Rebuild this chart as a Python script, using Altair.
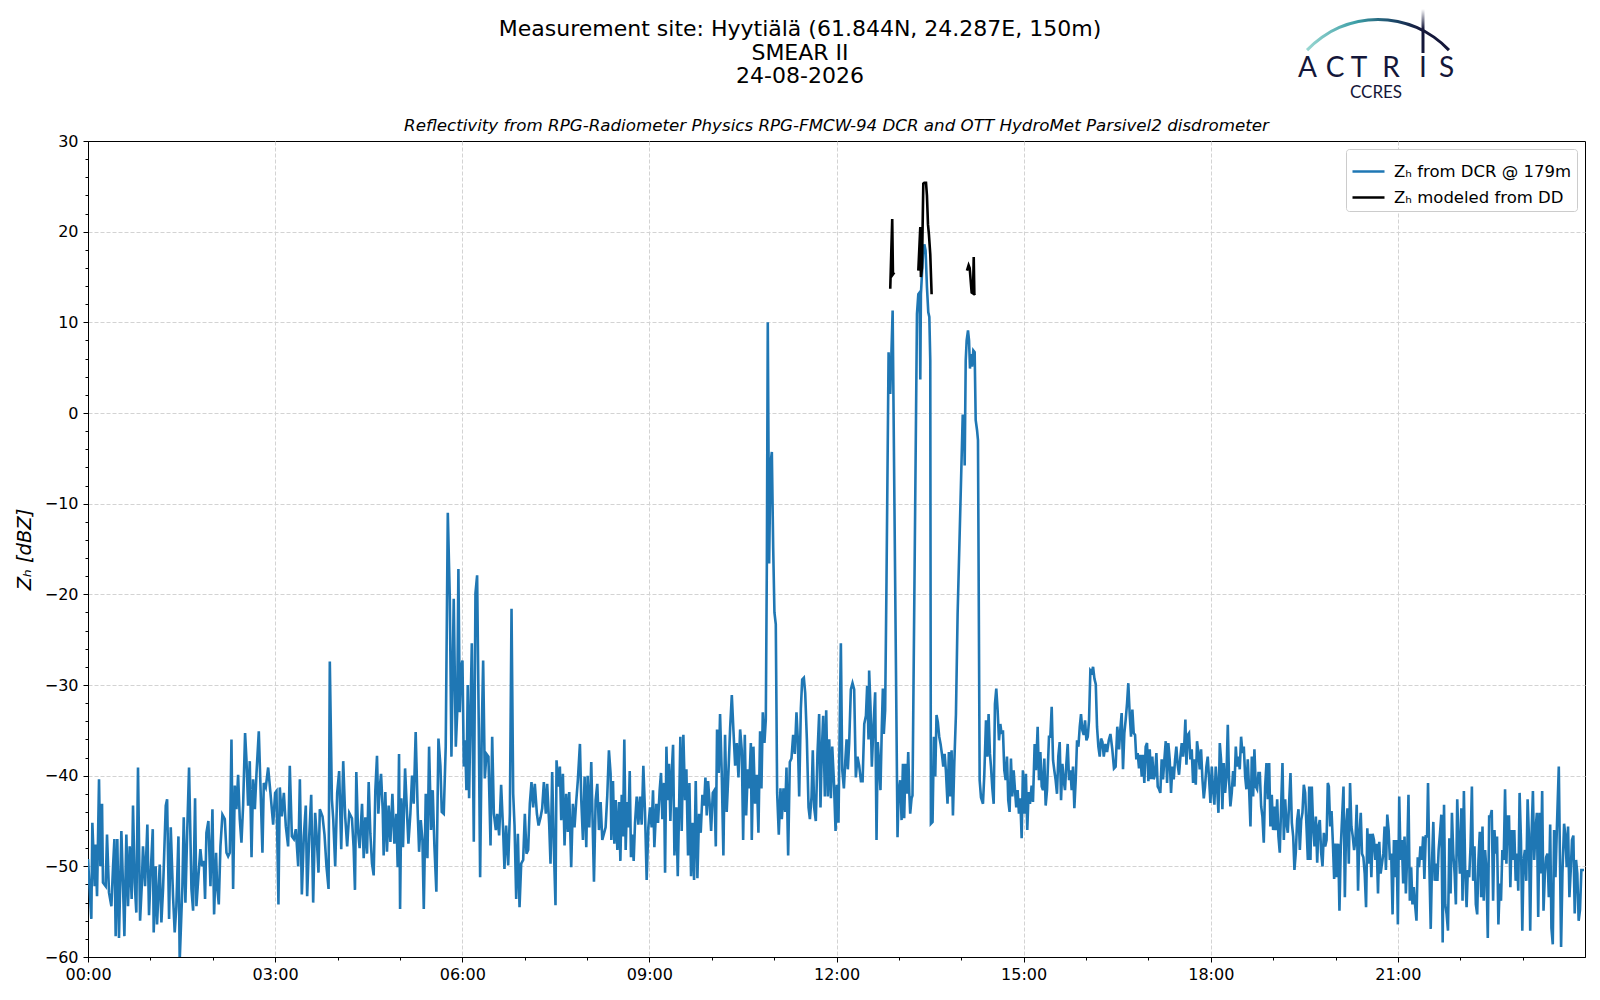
import altair as alt
import pandas as pd

# ---------------- text ----------------
TITLE_LINES = [
    "Measurement site: Hyytiälä (61.844N, 24.287E, 150m)",
    "SMEAR II",
    "24-08-2026",
]
SUBTITLE = ("Reflectivity from RPG-Radiometer Physics RPG-FMCW-94 DCR "
            "and OTT HydroMet Parsivel2 disdrometer")
SERIES = ["Zₕ from DCR @ 179m", "Zₕ modeled from DD"]
Y_TITLE = "Zₕ [dBZ]"
LOGO_LETTERS = ["A", "C", "T", "R", "I", "S"]
LOGO_SUB = "CCRES"

# ---------------- data: (minute of day, dBZ) ----------------
DCR_00_04 = [
    (0.0, -49.2), (3.2, -55.8), (4.2, -45.2), (6.4, -52.2), (7.1, -47.6), (8.7, -53.3),
    (10.6, -40.4), (11.9, -50.0), (13.5, -43.1), (14.4, -51.8), (17.0, -52.2), (18.3, -46.5),
    (20.2, -52.9), (22.5, -54.4), (24.1, -50.0), (25.4, -47.0), (26.6, -57.7), (28.2, -47.0),
    (29.8, -57.9), (32.1, -46.1), (33.7, -52.2), (35.0, -57.7), (36.9, -46.5), (38.5, -54.4),
    (40.1, -47.8), (42.0, -53.6), (43.3, -43.3), (44.9, -51.8), (46.5, -55.1), (48.1, -39.1),
    (50.1, -56.0), (51.7, -52.2), (52.9, -47.8), (54.9, -52.2), (57.1, -45.4), (58.7, -55.4),
    (60.3, -50.7), (62.3, -45.9), (63.2, -57.3), (65.1, -50.0), (66.4, -56.4), (69.0, -49.8),
    (70.6, -56.2), (72.2, -52.5), (74.8, -43.3), (76.1, -42.6), (78.0, -55.8), (79.6, -45.7),
    (81.8, -53.3), (83.4, -57.3), (85.0, -54.4), (87.0, -46.7), (88.2, -60.5), (90.8, -52.2),
    (92.1, -44.6), (93.7, -54.0), (95.3, -46.7), (97.2, -39.1), (99.5, -52.5), (101.1, -54.9),
    (103.0, -42.5), (104.3, -54.4), (106.2, -51.1), (108.1, -48.1), (109.7, -50.0), (111.4, -49.4),
    (112.6, -53.6), (113.9, -46.3), (115.8, -45.0), (117.8, -52.2), (119.7, -43.7), (121.3, -55.3),
    (123.2, -48.5), (124.2, -52.2), (125.8, -54.2), (127.4, -47.8), (129.3, -44.3), (131.6, -44.8),
    (133.2, -48.5), (134.8, -48.9), (136.4, -48.5), (138.0, -36.0), (139.6, -52.5), (141.2, -41.1),
    (142.8, -43.7), (144.4, -39.9), (146.0, -44.8), (147.6, -47.4), (149.2, -43.3), (151.1, -35.3),
    (152.4, -38.2), (154.0, -43.3), (155.6, -38.4), (157.3, -49.0), (158.8, -40.4), (160.5, -43.7),
    (162.1, -39.7), (164.3, -35.1), (165.9, -41.1), (167.8, -48.5), (169.1, -40.8), (171.0, -41.3),
    (173.3, -39.1), (175.5, -41.9), (178.1, -45.4), (180.0, -41.9), (181.3, -41.7), (183.2, -54.2),
    (184.5, -41.3), (186.4, -44.5), (188.4, -41.9), (190.3, -45.6), (192.5, -47.8), (194.1, -38.9),
    (196.1, -46.7), (198.0, -47.0), (199.9, -45.9), (202.2, -50.0), (203.8, -40.4), (205.7, -53.1),
    (207.6, -46.7), (209.5, -43.3), (210.8, -53.3), (212.8, -46.7), (214.7, -42.1), (216.6, -54.0),
    (218.5, -44.1), (219.8, -46.3), (221.7, -50.7), (223.0, -43.7), (225.6, -44.5), (227.5, -46.5),
    (229.4, -50.0), (231.4, -52.5), (232.6, -27.4), (234.6, -42.6), (235.9, -44.8), (237.8, -50.0),
    (239.7, -41.9), (241.6, -39.5), (243.6, -48.1), (245.5, -38.4), (247.4, -44.5), (249.3, -47.8),
    (251.3, -44.1),
]

DCR_04_08 = [
    (253.9, -44.7), (255.5, -47.9), (256.8, -52.6), (258.1, -39.6), (259.7, -46.0),
    (261.3, -48.0), (263.6, -43.1), (265.2, -49.1), (266.8, -44.6), (268.4, -48.6), (270.0, -40.7),
    (271.6, -46.4), (273.2, -49.7), (274.8, -51.0), (276.4, -41.6), (278.0, -37.8), (279.3, -44.2),
    (280.6, -41.4), (281.9, -39.8), (283.5, -43.8), (284.4, -48.8), (286.0, -41.8), (287.6, -48.4),
    (289.2, -43.3), (290.9, -47.3), (292.8, -42.0), (294.7, -47.5), (296.6, -44.2), (297.9, -50.1),
    (299.2, -37.6), (300.2, -54.7), (301.4, -42.5), (303.0, -47.9), (305.0, -39.2), (306.9, -44.2),
    (308.2, -47.5), (310.1, -44.2), (311.7, -40.0), (313.3, -43.1), (315.2, -35.2), (317.2, -44.2),
    (318.5, -48.4), (320.1, -44.9), (321.7, -47.1), (323.0, -54.7), (324.9, -42.0), (326.5, -49.1),
    (328.1, -36.8), (330.0, -46.0), (331.6, -41.6), (333.2, -47.7), (335.1, -52.8), (337.1, -35.9),
    (339.0, -38.9), (340.3, -44.0), (342.2, -44.2), (344.1, -36.8), (346.1, -11.0), (348.0, -20.3),
    (349.6, -37.9), (351.8, -20.5), (353.8, -36.8), (355.1, -33.2), (356.3, -17.2), (357.6, -33.0),
    (358.9, -28.0), (360.2, -27.3), (361.5, -39.0), (362.8, -36.1), (364.0, -41.6), (365.3, -30.0),
    (366.6, -42.5), (367.9, -33.2), (369.2, -25.4), (371.1, -47.3), (372.7, -19.9), (374.3, -17.9),
    (375.9, -34.6), (377.2, -51.2), (378.8, -35.0), (380.1, -27.3), (381.7, -40.3), (383.3, -37.6),
    (385.2, -37.9), (387.2, -47.7), (388.8, -35.7), (390.4, -44.2), (392.3, -46.0), (393.6, -44.2),
    (395.5, -46.6), (397.4, -41.0), (399.3, -46.0), (400.6, -50.3), (402.2, -45.5), (404.2, -49.9),
    (405.8, -44.2), (407.4, -21.6), (409.0, -42.0), (410.3, -45.5), (411.9, -53.6), (413.5, -46.4),
    (415.1, -54.5), (416.7, -49.7), (418.6, -49.3), (420.2, -44.2), (421.8, -48.6), (423.4, -48.2),
    (425.0, -43.1), (426.6, -40.7), (428.2, -43.5), (429.8, -40.9), (431.8, -44.2), (433.4, -45.5),
    (435.3, -44.6), (436.9, -43.6), (438.5, -40.7), (440.4, -44.2), (441.7, -40.9), (443.6, -45.3),
    (444.9, -49.7), (446.5, -39.6), (448.1, -47.9), (449.7, -54.3), (450.7, -38.3), (452.3, -41.2),
    (453.9, -39.0), (455.2, -44.9), (456.8, -39.8), (458.4, -47.7), (460.0, -42.0), (461.6, -46.2),
    (462.9, -41.8), (464.8, -50.1), (466.4, -43.1), (468.0, -45.7), (469.6, -42.9), (471.2, -40.5),
    (473.2, -36.5), (474.5, -42.7), (476.1, -47.1), (477.7, -40.1), (479.3, -47.9), (480.6, -40.0),
    (482.2, -45.7), (484.1, -38.5), (485.7, -46.6), (486.7, -51.7), (488.3, -42.7), (489.9, -40.9),
    (491.5, -46.0), (493.1, -42.9), (494.7, -47.1), (496.3, -46.4), (497.9, -45.7), (499.5, -42.2),
    (501.1, -37.2), (502.7, -39.8),
]

DCR_08_12 = [
    (503.4, -47.1), (505.0, -40.6), (506.3, -47.5), (507.6, -42.7), (509.2, -48.2), (510.8, -42.9),
    (512.1, -49.4), (513.4, -42.1), (514.6, -46.7), (515.9, -36.0), (517.2, -48.2), (518.5, -42.9),
    (519.8, -45.7), (521.1, -39.5), (522.3, -49.0), (523.6, -46.5), (524.9, -49.4), (526.2, -45.2),
    (527.8, -42.3), (529.4, -45.4), (531.0, -42.3), (532.6, -45.4), (534.2, -38.9), (535.8, -44.0),
    (537.4, -51.5), (539.0, -45.7), (540.6, -43.5), (542.2, -45.7), (543.5, -41.6), (544.8, -47.9),
    (546.7, -43.1), (548.3, -45.2), (549.9, -41.6), (551.2, -39.7), (552.5, -44.8), (554.1, -40.8),
    (555.1, -50.7), (556.4, -36.8), (557.7, -42.7), (558.9, -38.7), (560.2, -45.0), (561.5, -39.7),
    (562.8, -36.6), (564.1, -48.8), (566.0, -43.5), (567.3, -51.1), (568.6, -43.5), (569.8, -35.7),
    (571.1, -46.1), (572.7, -35.5), (574.3, -42.7), (575.6, -39.3), (577.2, -48.8), (578.5, -40.8),
    (580.1, -51.1), (581.4, -45.2), (583.0, -51.5), (584.6, -40.6), (586.2, -51.3), (587.8, -44.2),
    (589.4, -46.3), (591.0, -42.1), (592.6, -43.3), (593.9, -40.2), (595.2, -44.4), (596.5, -40.6),
    (598.1, -43.3), (599.4, -46.1), (601.0, -41.9), (602.6, -41.6), (603.9, -47.8), (605.1, -34.9),
    (606.7, -39.7), (608.0, -33.2), (609.6, -39.7), (611.2, -48.8), (612.8, -35.5), (614.4, -44.0),
    (616.1, -39.5), (617.7, -34.7), (619.3, -31.1), (620.9, -35.1), (622.5, -38.9), (624.1, -36.4),
    (625.7, -40.2), (627.3, -34.9), (628.9, -37.2), (630.2, -47.1), (631.8, -35.5), (633.1, -44.4),
    (634.7, -39.3), (636.0, -41.4), (637.6, -36.4), (638.5, -47.1), (640.1, -36.8), (641.7, -43.1),
    (643.3, -39.9), (644.9, -46.3), (646.5, -35.1), (647.8, -41.4), (649.1, -33.0), (650.7, -36.4),
    (652.0, -33.8), (653.0, -16.6), (653.9, 10.0), (655.2, -16.6), (656.5, -5.6), (657.8, -4.3),
    (659.1, -14.9), (660.3, -22.0), (661.6, -23.3), (662.9, -41.9), (664.5, -46.5), (666.1, -41.4),
    (667.4, -44.8), (669.0, -41.4), (670.6, -44.0), (671.9, -39.1), (673.5, -48.8), (675.1, -38.5),
    (676.7, -38.1), (678.3, -35.5), (679.9, -37.6), (681.5, -33.0), (682.8, -36.0), (684.1, -42.3),
    (685.7, -32.6), (687.0, -29.4), (688.6, -29.2), (689.9, -30.9), (691.5, -36.0), (693.1, -43.5),
    (694.4, -44.8), (696.0, -42.3), (697.2, -37.2), (698.5, -43.5), (700.1, -45.0), (701.7, -37.6),
    (703.3, -33.2), (704.6, -43.5), (705.9, -37.2), (707.2, -33.4), (708.8, -42.3), (710.1, -32.8),
    (711.7, -42.3), (713.0, -36.0), (714.6, -42.5), (715.9, -36.8), (717.5, -40.6), (719.1, -46.1),
    (720.3, -41.0), (721.9, -45.2), (723.2, -33.8), (724.2, -25.4), (725.5, -39.3), (727.1, -41.4),
    (728.4, -38.5), (729.7, -36.0), (730.9, -39.3), (732.2, -36.4), (733.8, -30.5), (735.4, -29.8),
    (737.0, -30.5), (738.6, -40.2), (740.2, -37.9), (741.8, -38.9), (743.5, -40.6), (745.1, -40.6),
    (746.7, -34.3), (748.3, -33.4), (749.5, -30.1), (750.8, -36.0),
]

DCR_12_16 = [
    (751.4, -28.4), (752.7, -32.4), (754.0, -39.0), (755.5, -34.6), (757.2, -30.8), (758.5, -47.1),
    (759.7, -36.3), (761.0, -38.7), (762.3, -41.6), (763.6, -34.6), (764.6, -30.4), (765.5, -35.4),
    (766.8, -32.8), (768.1, -18.5), (770.1, 6.7), (771.7, 2.1), (774.0, 11.3), (778.7, -46.8),
    (779.7, -42.0), (781.3, -40.5), (782.6, -44.9), (783.9, -38.7), (785.1, -44.7), (786.4, -38.7),
    (787.7, -42.0), (789.0, -37.4), (790.0, -41.8), (790.9, -44.2), (792.2, -42.5), (793.1, -42.2),
    (797.4, 10.9), (798.7, 13.1), (800.0, 13.3), (800.6, 3.7), (801.2, 13.1), (802.2, 15.3),
    (803.2, 17.5), (804.5, 18.6), (805.7, 17.9), (807.0, 13.9), (808.3, 11.1), (809.3, 10.6),
    (810.2, 5.8), (810.8, -45.3), (812.4, -45.1), (813.7, -35.7), (815.0, -40.1), (816.2, -33.3),
    (817.5, -34.1), (818.8, -35.7), (820.1, -36.5), (821.4, -37.6), (822.7, -39.0), (824.0, -37.6),
    (825.2, -39.4), (826.8, -43.1), (828.1, -37.4), (829.4, -42.3), (830.7, -37.2), (832.0, -44.4),
    (833.3, -38.7), (834.9, -33.2), (836.5, -22.2), (841.4, -0.3), (842.6, -0.3), (843.3, -5.8),
    (844.3, 5.8), (845.2, 8.0), (846.5, 9.1), (847.5, 8.0), (848.4, 4.9), (849.4, 6.5),
    (850.4, 5.1), (851.6, 6.9), (852.9, 6.7), (853.9, -0.8), (855.2, -1.9), (856.1, -3.0),
    (857.7, -40.5), (859.0, -42.4), (860.9, -43.1), (862.2, -39.8), (863.8, -33.9), (865.1, -37.9),
    (866.3, -33.2), (867.6, -37.6), (868.6, -39.0), (869.9, -41.4), (871.2, -43.1), (872.4, -32.1),
    (873.7, -30.4), (875.0, -32.8), (876.3, -36.1), (877.6, -34.3), (878.8, -35.4), (880.1, -35.0),
    (881.4, -39.4), (882.7, -40.5), (884.0, -37.9), (885.2, -42.7), (886.5, -44.0), (887.8, -38.1),
    (889.1, -42.3), (890.4, -39.4), (891.7, -41.6), (892.9, -43.5), (894.2, -41.6), (895.5, -44.2),
    (896.8, -42.5), (898.1, -46.9), (899.3, -39.4), (900.9, -44.2), (902.2, -39.8), (903.5, -46.0),
    (904.8, -41.8), (906.1, -43.1), (907.7, -41.1), (909.0, -42.9), (910.6, -36.5), (911.9, -39.4),
    (913.5, -34.6), (914.8, -40.5), (916.1, -37.4), (917.4, -41.2), (918.6, -41.6), (919.9, -38.1),
    (921.2, -43.3), (922.5, -41.6), (924.4, -35.7), (925.7, -35.7), (927.0, -32.4), (928.3, -38.3),
    (929.5, -39.4), (930.8, -40.5), (932.1, -42.0), (933.4, -37.8), (934.7, -36.3), (936.0, -42.7),
    (937.3, -38.7), (938.5, -40.5), (939.8, -41.6), (941.1, -38.7), (942.4, -36.5), (943.7, -40.5),
    (945.0, -39.4), (946.2, -41.6), (947.5, -39.0), (948.8, -43.6), (950.1, -40.5), (951.4, -36.1),
    (952.7, -36.8), (954.0, -34.6), (955.2, -33.2), (956.5, -35.0), (957.8, -35.5), (959.1, -33.9),
    (960.4, -36.1), (961.7, -35.7), (962.9, -33.9), (964.2, -28.4), (965.5, -28.6), (966.8, -28.0),
    (968.1, -29.3), (969.4, -29.9), (970.6, -34.6), (971.9, -36.8), (973.2, -37.9), (974.5, -35.9),
    (975.8, -36.3), (977.1, -37.9), (978.7, -36.5), (980.3, -37.4), (981.9, -36.1), (983.5, -35.4),
]

DCR_16_20 = [
    (985.3, -37.1), (986.9, -39.2), (988.5, -39.0), (990.1, -34.6), (991.8, -37.1), (993.0, -34.9),
    (994.3, -33.1), (995.6, -39.3), (996.9, -35.3), (998.2, -33.8), (999.5, -32.0), (1000.7, -29.8),
    (1002.0, -33.1), (1003.3, -35.7), (1004.6, -32.7), (1005.9, -35.3), (1007.2, -35.5), (1008.4, -38.2),
    (1009.7, -37.5), (1011.0, -39.2), (1012.3, -37.7), (1013.6, -40.1), (1014.9, -37.7), (1016.1, -40.8),
    (1017.4, -36.8), (1018.7, -36.4), (1020.0, -40.6), (1021.3, -37.1), (1022.6, -40.4), (1023.8, -37.9),
    (1025.1, -40.4), (1026.4, -39.9), (1027.7, -37.5), (1029.0, -41.2), (1030.3, -41.5), (1031.5, -41.9),
    (1032.8, -38.2), (1034.1, -40.4), (1035.4, -38.2), (1036.7, -36.2), (1038.0, -40.8), (1039.2, -36.4),
    (1040.5, -38.2), (1041.8, -41.9), (1043.1, -39.0), (1044.4, -40.4), (1045.7, -38.2), (1046.9, -36.8),
    (1048.2, -38.8), (1049.5, -39.9), (1050.8, -37.9), (1052.1, -36.4), (1053.4, -37.9), (1054.6, -36.4),
    (1055.6, -33.8), (1056.6, -38.8), (1057.9, -35.5), (1059.1, -35.3), (1060.4, -38.2), (1061.7, -37.1),
    (1063.0, -40.8), (1064.3, -38.2), (1065.6, -41.0), (1066.8, -36.2), (1068.1, -37.5), (1069.4, -39.3),
    (1070.7, -37.1), (1072.0, -40.4), (1073.3, -42.5), (1074.5, -41.2), (1075.8, -39.0), (1077.1, -37.9),
    (1078.4, -40.4), (1079.7, -43.0), (1081.0, -39.0), (1082.2, -41.5), (1083.5, -43.2), (1084.8, -39.0),
    (1086.1, -41.2), (1087.4, -44.1), (1088.7, -36.4), (1089.9, -38.2), (1091.2, -43.7), (1092.5, -38.6),
    (1093.8, -41.9), (1095.1, -40.1), (1096.4, -34.4), (1097.6, -40.4), (1098.9, -43.4), (1100.2, -41.9),
    (1101.5, -39.5), (1102.8, -41.2), (1104.1, -36.8), (1105.3, -39.0), (1106.6, -37.9), (1107.9, -39.3),
    (1109.2, -35.7), (1110.5, -37.5), (1111.8, -36.8), (1113.1, -40.1), (1114.3, -41.5), (1115.6, -38.2),
    (1116.9, -41.5), (1118.2, -45.6), (1119.5, -37.9), (1120.8, -42.3), (1122.0, -37.1), (1123.3, -41.2),
    (1124.6, -41.5), (1125.9, -39.7), (1127.2, -39.7), (1128.5, -43.4), (1129.7, -44.5), (1131.0, -47.4),
    (1132.3, -41.2), (1133.6, -38.6), (1134.9, -42.6), (1136.2, -38.6), (1137.4, -45.6), (1138.7, -42.1),
    (1140.0, -46.0), (1141.3, -43.4), (1142.6, -46.0), (1143.9, -42.6), (1145.1, -46.7), (1146.4, -48.5),
    (1147.7, -43.4), (1149.0, -38.6), (1150.3, -47.1), (1151.6, -42.6), (1152.8, -45.2), (1154.1, -46.3),
    (1155.4, -43.0), (1156.7, -39.7), (1158.0, -45.2), (1159.3, -46.7), (1160.5, -50.4), (1161.8, -48.5),
    (1163.1, -44.9), (1164.4, -43.7), (1165.7, -48.2), (1167.0, -44.9), (1168.2, -44.1), (1169.5, -41.0),
    (1170.8, -41.9), (1172.1, -45.6), (1173.4, -49.3), (1174.7, -41.2), (1175.9, -49.3), (1177.2, -41.2),
    (1178.5, -45.6), (1179.8, -47.8), (1181.1, -44.5), (1182.4, -49.6), (1183.6, -45.6), (1184.9, -44.9),
    (1186.2, -48.5), (1187.5, -50.0), (1188.8, -46.3), (1190.1, -47.8), (1191.4, -47.1), (1192.6, -40.8),
]

DCR_20_24 = [
    (1193.6, -41.2), (1194.9, -45.6), (1196.2, -43.9), (1197.5, -47.5), (1198.7, -51.4), (1200.0, -47.5),
    (1201.3, -51.2), (1202.6, -47.5), (1203.8, -54.9), (1205.1, -47.8), (1206.4, -44.5), (1207.7, -41.2),
    (1209.0, -53.4), (1210.2, -45.6), (1211.5, -43.6), (1212.8, -49.7), (1214.0, -40.8), (1215.3, -45.6),
    (1216.6, -46.7), (1217.9, -48.2), (1219.2, -47.1), (1220.4, -43.2), (1221.7, -52.7), (1223.0, -46.4),
    (1224.3, -44.1), (1225.5, -48.6), (1226.8, -49.0), (1228.1, -50.8), (1229.4, -54.5), (1230.6, -45.8),
    (1231.9, -49.7), (1233.2, -46.4), (1234.5, -51.2), (1235.7, -46.4), (1237.0, -47.1), (1238.3, -49.3),
    (1239.6, -47.5), (1240.9, -53.0), (1242.1, -47.3), (1243.4, -50.8), (1244.7, -49.7), (1246.0, -48.6),
    (1247.2, -45.6), (1248.5, -50.4), (1249.8, -44.3), (1251.1, -46.0), (1252.3, -49.3), (1253.6, -48.6),
    (1254.9, -55.3), (1256.2, -47.1), (1257.4, -51.2), (1258.7, -47.1), (1260.0, -56.4), (1261.3, -42.3),
    (1262.6, -49.3), (1263.8, -47.1), (1265.1, -51.9), (1266.4, -46.7), (1267.7, -53.0), (1268.9, -49.0),
    (1270.2, -42.1), (1271.5, -53.8), (1272.8, -50.1), (1274.0, -54.2), (1275.3, -52.3), (1276.6, -54.3),
    (1277.9, -56.0), (1279.1, -49.0), (1280.4, -50.1), (1281.7, -47.8), (1283.0, -49.3), (1284.3, -46.7),
    (1285.5, -51.4), (1286.8, -46.7), (1288.1, -46.7), (1289.0, -40.8), (1290.3, -50.1), (1291.6, -56.9),
    (1292.9, -49.3), (1294.1, -45.1), (1295.4, -51.6), (1296.7, -49.7), (1298.0, -51.6), (1299.2, -48.2),
    (1300.5, -46.4), (1301.8, -44.3), (1303.1, -58.4), (1304.4, -43.2), (1305.6, -54.2), (1306.9, -55.3),
    (1308.2, -57.1), (1309.5, -46.9), (1310.7, -53.0), (1312.0, -44.1), (1313.3, -48.6), (1314.6, -50.8),
    (1315.8, -54.2), (1317.1, -42.6), (1318.4, -47.5), (1319.7, -50.8), (1321.0, -43.6), (1322.2, -53.8),
    (1323.5, -41.7), (1324.8, -50.8), (1326.1, -54.5), (1327.3, -50.4), (1328.6, -51.2), (1329.9, -47.8),
    (1331.2, -41.2), (1332.4, -51.6), (1333.7, -47.8), (1335.0, -54.2), (1336.3, -55.3), (1337.5, -49.3),
    (1338.8, -46.2), (1340.1, -53.4), (1341.4, -45.6), (1342.6, -53.8), (1343.9, -48.2), (1345.2, -50.4),
    (1346.5, -57.9), (1347.8, -44.5), (1349.0, -44.5), (1350.3, -43.8), (1351.6, -53.8), (1352.9, -46.0),
    (1354.1, -48.6), (1355.4, -46.7), (1356.7, -56.4), (1358.0, -51.9), (1359.2, -53.8), (1360.5, -48.2),
    (1361.8, -49.3), (1363.1, -41.5), (1364.4, -49.7), (1365.6, -44.5), (1366.9, -44.5), (1368.2, -52.3),
    (1369.5, -46.0), (1370.7, -49.3), (1372.0, -46.0), (1373.3, -51.6), (1374.6, -48.6), (1375.8, -52.7),
    (1377.1, -41.9), (1378.4, -47.1), (1379.7, -57.1), (1380.9, -49.3), (1382.2, -48.2), (1383.5, -51.6),
    (1384.8, -42.6), (1386.0, -46.4), (1387.3, -57.1), (1388.6, -46.4), (1389.9, -41.7), (1391.1, -49.3),
    (1392.4, -46.0), (1393.7, -44.1), (1395.0, -55.6), (1396.3, -44.1), (1397.5, -50.8), (1398.8, -41.7),
    (1400.1, -54.9), (1401.4, -50.8), (1402.6, -49.0), (1403.9, -48.6), (1405.2, -53.4), (1406.5, -45.4),
    (1407.7, -56.8), (1409.0, -58.6), (1410.3, -46.0), (1411.6, -51.2), (1412.9, -46.0), (1414.8, -39.0),
    (1417.0, -58.9), (1418.3, -50.8), (1419.9, -45.3), (1421.2, -46.7), (1422.4, -50.1), (1423.7, -45.6),
    (1425.0, -53.4), (1426.3, -50.4), (1427.5, -47.1), (1428.8, -46.6), (1430.1, -55.2), (1431.4, -49.3),
    (1432.6, -50.8), (1433.9, -56.0), (1435.2, -54.8), (1436.5, -50.4), (1437.7, -50.4), (1439.0, -50.4),
]

DD_SEG_1 = [(771.7, 13.7), (773.6, 21.4), (774.3, 15.3), (775.6, 15.5)]
DD_SEG_2 = [(798.7, 15.7), (800.6, 20.5), (801.2, 15.0), (802.2, 16.0), (803.5, 25.3), (804.5, 25.4),
            (806.1, 25.4), (807.0, 24.0), (808.0, 20.8), (808.9, 19.7), (810.2, 17.5), (811.5, 13.1)]
DD_SEG_3 = [(845.5, 15.7), (847.1, 16.3), (848.1, 16.0), (850.0, 13.3), (851.3, 13.2), (852.0, 17.2),
            (852.6, 13.1), (853.2, 13.0)]

# ---------------- table ----------------
rows = []
for part in [DCR_00_04, DCR_04_08, DCR_08_12, DCR_12_16, DCR_16_20, DCR_20_24]:
    for m, z in part:
        rows.append({"hour": m / 60.0, "dbz": z, "series": SERIES[0], "seg": 0})
for k, part in enumerate([DD_SEG_1, DD_SEG_2, DD_SEG_3], start=1):
    for m, z in part:
        rows.append({"hour": m / 60.0, "dbz": z, "series": SERIES[1], "seg": k})
df = pd.DataFrame(rows)

W, H = 1497, 816
FONT = "DejaVu Sans"
NAVY = "#14173a"

x_axis = alt.Axis(
    values=list(range(0, 24)),
    labelExpr="datum.value % 3 === 0 ? (datum.value < 10 ? '0' : '') + datum.value + ':00' : ''",
    tickSize={"condition": {"test": "datum.value % 3 === 0", "value": 5}, "value": 3},
    gridOpacity={"condition": {"test": "datum.value % 3 === 0 && datum.value > 0", "value": 1}, "value": 0},
    labelFlush=False, labelOverlap=False, labelPadding=4, title=None,
)
y_axis = alt.Axis(
    values=list(range(-60, 31, 2)),
    labelExpr="datum.value % 10 === 0 ? datum.label : ''",
    tickSize={"condition": {"test": "datum.value % 10 === 0", "value": 5}, "value": 3},
    gridOpacity={"condition": {"test": "datum.value % 10 === 0 && datum.value > -60 && datum.value < 30",
                               "value": 1}, "value": 0},
    labelOverlap=False, labelPadding=5,
    title=Y_TITLE, titleFontStyle="italic", titleFontWeight="normal", titleFontSize=19.5,
    titleX=-64, titleY=H / 2, titleAngle=270, titleAlign="center", titleBaseline="middle",
)

lines = alt.Chart(df).mark_line(strokeWidth=2.6, clip=True).encode(
    x=alt.X("hour:Q", scale=alt.Scale(domain=[0, 24], nice=False, zero=False), axis=x_axis),
    y=alt.Y("dbz:Q", scale=alt.Scale(domain=[-60, 30], nice=False, zero=False), axis=y_axis),
    color=alt.Color(
        "series:N",
        scale=alt.Scale(domain=SERIES, range=["#1f77b4", "#000000"]),
        legend=alt.Legend(
            title=None, orient="top-right", offset=8, padding=5, cornerRadius=3,
            fillColor="white", strokeColor="#cccccc", symbolType="stroke",
            symbolSize=1024, symbolStrokeWidth=2.6, labelFontSize=16.5, labelFont=FONT,
            labelOffset=8, rowPadding=-5, labelLimit=400, labelColor="black",
        ),
    ),
    detail="seg:N",
)

ONE = alt.Data(values=[{}])


def label(txt, x, y, size, style="normal", color="black", font=FONT, baseline="middle"):
    return alt.Chart(ONE).mark_text(
        x=x, y=y, fontSize=size, fontStyle=style, color=color, font=font,
        align="center", baseline=baseline,
    ).encode(text=alt.value(txt))


layers = [lines]
for i, t in enumerate(TITLE_LINES):
    layers.append(label(t, 712, -112 + 23.5 * i, 22))
layers.append(label(SUBTITLE, W / 2, -15, 16.7, style="italic"))

# logo
arc_fill = alt.LinearGradient(
    gradient="linear", x1=0, y1=0, x2=1, y2=0,
    stops=[alt.GradientStop(color="#9ad8d2", offset=0),
           alt.GradientStop(color="#3c9ea6", offset=0.35),
           alt.GradientStop(color="#1d4a6b", offset=0.6),
           alt.GradientStop(color=NAVY, offset=0.8),
           alt.GradientStop(color=NAVY, offset=1)],
)
layers.append(alt.Chart(ONE).mark_arc(
    theta=5.468, theta2=7.098, radius=99, radius2=96, fill=arc_fill,
).encode(x=alt.value(1290), y=alt.value(-24)))
stem_fill = alt.LinearGradient(
    gradient="linear", x1=0, y1=0, x2=0, y2=1,
    stops=[alt.GradientStop(color="#ffffff", offset=0),
           alt.GradientStop(color=NAVY, offset=0.45),
           alt.GradientStop(color=NAVY, offset=1)],
)
layers.append(alt.Chart(ONE).mark_rect(fill=stem_fill).encode(
    x=alt.value(1333.5), x2=alt.value(1336.5), y=alt.value(-132), y2=alt.value(-88)))
LOGO_X = [1219.5, 1247, 1271, 1303, 1335, 1358.5]
for ch, lx in zip(LOGO_LETTERS, LOGO_X):
    layers.append(label(ch, lx, -64, 28, color=NAVY, font="Lato", baseline="alphabetic"))
layers.append(label(LOGO_SUB, 1288, -43, 17, color=NAVY, font="Lato", baseline="alphabetic"))

chart = alt.layer(*layers).properties(
    width=W, height=H,
    padding={"left": 80, "top": 133, "right": 7, "bottom": 30},
    autosize=alt.AutoSizeParams(type="none"),
).configure(font=FONT).configure_axis(
    labelFont=FONT, labelFontSize=16, labelColor="black",
    tickColor="black", tickWidth=1, domainColor="black", domainWidth=1,
    gridColor="#d3d3d3", gridDash=[4, 2], gridWidth=1,
    titleFont=FONT, titleColor="black",
).configure_view(stroke="black", strokeWidth=1)

chart.save("out.html", embed_options={"renderer": "svg", "actions": False})
